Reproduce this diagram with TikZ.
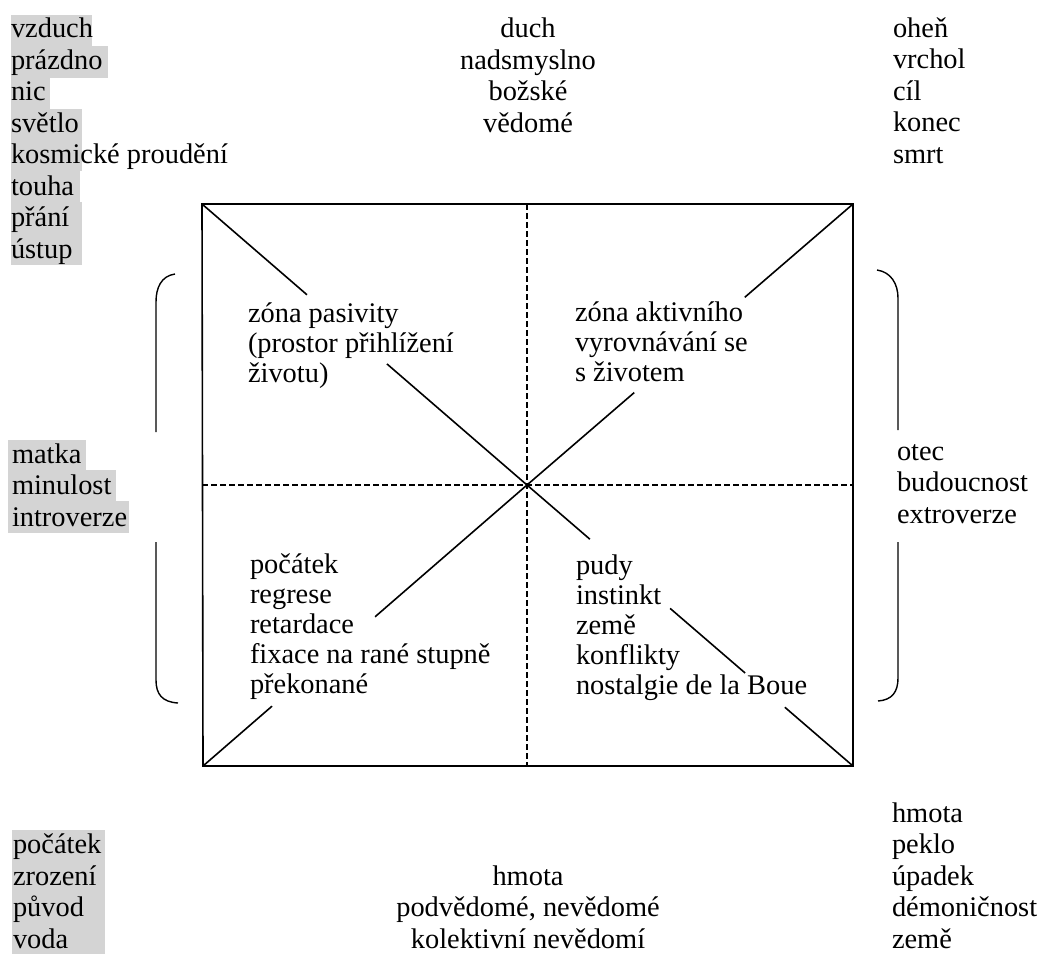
\documentclass[tikz,border=0pt]{standalone}
\usepackage{fontspec}
\setmainfont{Liberation Serif}
\usetikzlibrary{calc}

\begin{document}
\begin{tikzpicture}[
    x=0.5pt, y=-0.5pt,
    every node/.style={inner sep=0pt, outer sep=0pt,
        font=\fontsize{14.2}{15.75}\selectfont},
    words/.style={align=left, anchor=base west},
    midwords/.style={align=center, anchor=base},
    zone/.style={align=left, anchor=base west,
        font=\fontsize{14.2}{15}\selectfont},
    frame/.style={line width=0.8pt},
    axis/.style={line width=0.7pt, dash pattern=on 3pt off 1.5pt},
    ray/.style={line width=0.8pt},
    bracket/.style={line width=0.7pt},
    marker/.style={fill=black!17}
]
\useasboundingbox (0,0) rectangle (1048,954);

% grey marker behind the left columns
\foreach \w [count=\i from 0] in {92,108,50,82,82,80,82,82}
    \fill[marker] (11,{15+31.2*\i}) rectangle (\w,{46.4+31.2*\i});
\fill[marker] (8,440) rectangle (86,470);
\fill[marker] (8,470) rectangle (116,501);
\fill[marker] (8,501) rectangle (129,533);
\fill[marker] (12,830) rectangle (105,954);

% square with its axes
\coordinate (tl) at (202,204);
\coordinate (tr) at (853,204);
\coordinate (bl) at (203,766);
\coordinate (br) at (853,766);
\coordinate (c) at (527,485);
\coordinate (tm) at (527,204);
\coordinate (bm) at (527,766);
\coordinate (lm) at (202,485);
\coordinate (rm) at (853,485);

\draw[frame] (tl) -- (tr) -- (br) -- (bl) -- cycle;
\draw[axis] (tm) -- (bm);
\draw[axis] (lm) -- (rm);

% diagonals, broken where the text is
\foreach \k/\a/\b in {tl/0/0.323, tl/0.569/1, tr/0/0.332, tr/0.671/1,
        bl/0/0.213, bl/0.531/1, br/0/0.209, br/0.331/0.561, br/0.807/1}
    \draw[ray] ($(\k)!\a!(c)$) -- ($(\k)!\b!(c)$);

% brackets
\draw[bracket] (175,274) .. controls (161,276) and (156,288) .. (156,302) -- (156,432);
\draw[bracket] (156,542) -- (156,680) .. controls (156,694) and (162,702) .. (178,703);
\draw[bracket] (877,270) .. controls (891,272) and (898,284) .. (898,298) -- (898,430);
\draw[bracket] (898,542) -- (898,678) .. controls (898,692) and (892,700) .. (878,701);

% outer texts (placed at the baseline of their last line)
\node[words] (air) at (11,258)
    {vzduch\\prázdno\\nic\\světlo\\kosmické proudění\\touha\\přání\\ústup};
\node[midwords] (spirit) at (528,132) {duch\\nadsmyslno\\božské\\vědomé};
\node[words] (fire) at (893,163) {oheň\\vrchol\\cíl\\konec\\smrt};
\node[words] (mother) at (12,526) {matka\\minulost\\introverze};
\node[words] (father) at (897,523) {otec\\budoucnost\\extroverze};
\node[words] (water) at (13,948) {počátek\\zrození\\původ\\voda};
\node[midwords] (matter) at (528,948)
    {hmota\\podvědomé, nevědomé\\kolektivní nevědomí};
\node[words] (hell) at (892,948) {hmota\\peklo\\úpadek\\démoničnost\\země};

% texts in the quadrants
\node[zone] (passive) at (248,382)
    {zóna pasivity\\(prostor přihlížení\\životu)};
\node[zone] (active) at (575,381) {zóna aktivního\\vyrovnávání se\\s životem};
\node[zone] (origin) at (250,693)
    {počátek\\regrese\\retardace\\fixace na rané stupně\\překonané};
\node[zone] (drives) at (576,694)
    {pudy\\instinkt\\země\\konflikty\\nostalgie de la Boue};
\end{tikzpicture}
\end{document}
